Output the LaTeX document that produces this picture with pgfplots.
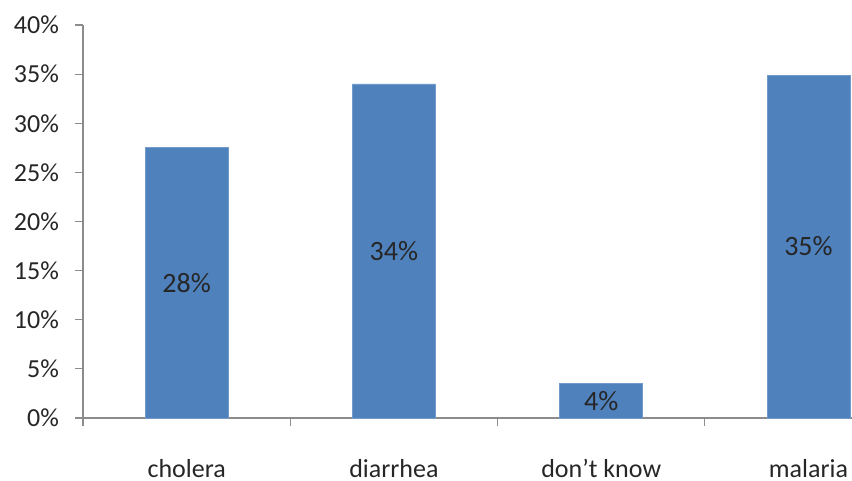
\documentclass[border=0pt]{standalone}
\usepackage{pgfplots}
\usepackage{pgfplotstable}
\pgfplotsset{compat=1.18}
\usepackage{fontspec}
\setmainfont{Carlito}

\definecolor{barblue}{HTML}{4F81BD}
\definecolor{axisgray}{HTML}{8C8C8C}

% Share of answers per category (percent)
\pgfplotstableread{
x  y
0  27.5
1  34.0
2  3.5
3  34.9
}\answers

\begin{document}
\begin{tikzpicture}
\useasboundingbox (-41.5pt,-31.5pt) rectangle (384.5pt,209pt);
\begin{axis}[
  at={(0,0)}, anchor=south west,
  scale only axis,
  width=384.5pt, height=196.5pt,
  xmin=-0.5, xmax=3.21,
  ymin=0, ymax=40,
  axis lines*=left,
  axis line style={axisgray, line width=0.6pt},
  clip=false,
  xtick={0,1,2,3},
  xticklabels={cholera, diarrhea, don’t know, malaria},
  minor xtick={-0.5,0.5,1.5,2.5},
  major x tick style={draw=none},
  minor tick length=4pt,
  major tick length=4pt,
  tick align=outside,
  tick style={axisgray, line width=0.6pt},
  ytick={0,5,...,40},
  yticklabel={\pgfmathprintnumber{\tick}\%},
  /pgf/number format/assume math mode=true,
  ticklabel style={font=\fontsize{13}{15}\selectfont, text=black!85},
  yticklabel style={xshift=-4.5pt},
  xticklabel style={yshift=-13pt},
]
\addplot[ybar, bar width=0.4, fill=barblue, draw=barblue!80!white, line width=0.4pt]
  table[x=x, y=y] {\answers};
\addplot[draw=none, mark=none, forget plot,
  nodes near coords={\pgfmathprintnumber[fixed,precision=0]{\pgfplotspointmeta}\%},
  point meta=explicit,
  every node near coord/.style={anchor=center, font=\fontsize{14}{16}\selectfont, text=black!85}]
  table[x=x, y expr=\thisrow{y}/2, meta=y] {\answers};
\end{axis}
\end{tikzpicture}
\end{document}
